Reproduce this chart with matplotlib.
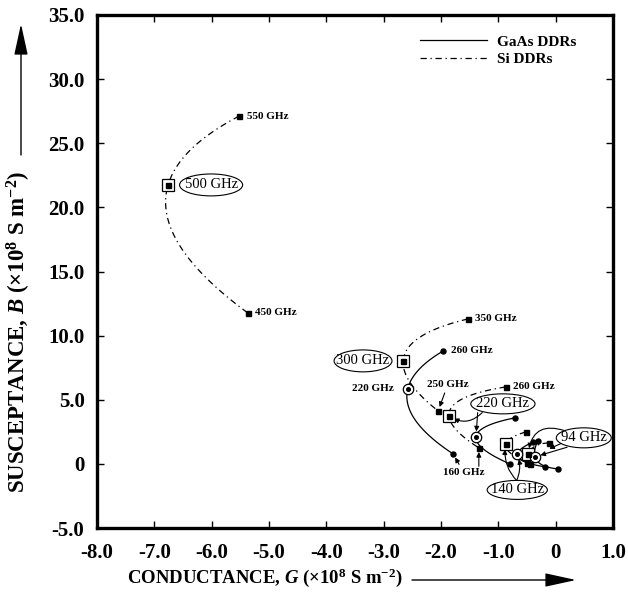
import numpy as np
import matplotlib
matplotlib.use("Agg")
import matplotlib.pyplot as plt
from matplotlib.lines import Line2D
from matplotlib.patches import Ellipse, FancyArrowPatch

plt.rcParams['font.family'] = ['Liberation Serif', 'DejaVu Serif']
plt.rcParams['mathtext.fontset'] = 'custom'
plt.rcParams['mathtext.rm'] = 'Liberation Serif:bold'
plt.rcParams['mathtext.it'] = 'Liberation Serif:italic:bold'
plt.rcParams['mathtext.bf'] = 'Liberation Serif:bold'

# ---- data: (G, B) triples  [upper freq, optimum freq, lower freq] ----
# Si DDRs (dash-dot)
si_500_G = [-5.52, -6.76, -5.37]
si_500_B = [27.12, 21.75, 11.77]
si_300_G = [-1.53, -2.66, -2.05]
si_300_B = [11.30, 8.03, 4.13]
si_220_G = [-0.87, -1.86, -1.34]
si_220_B = [6.00, 3.74, 1.25]
si_140_G = [-0.52, -0.87, -0.45]
si_140_B = [2.49, 1.56, 0.02]
si_94_G = [-0.12, -0.48, -0.50]
si_94_B = [1.64, 0.78, 0.10]
# GaAs DDRs (solid)
ga_220_G = [-1.96, -2.58, -1.79]
ga_220_B = [8.81, 5.85, 0.78]
ga_180_G = [-0.71, -1.39, -0.80]
ga_180_B = [3.59, 2.10, 0.00]
ga_140_G = [-0.39, -0.67, -0.19]
ga_140_B = [1.71, 0.78, -0.23]
ga_94_G = [-0.31, -0.36, 0.04]
ga_94_B = [1.79, 0.55, -0.39]

x_ticks = [-8.0, -7.0, -6.0, -5.0, -4.0, -3.0, -2.0, -1.0, 0.0, 1.0]
x_ticklabels = ['-8.0', '-7.0', '-6.0', '-5.0', '-4.0', '-3.0', '-2.0', '-1.0', '0', '1.0']
y_ticks = [-5.0, 0.0, 5.0, 10.0, 15.0, 20.0, 25.0, 30.0, 35.0]
y_ticklabels = ['-5.0', '0', '5.0', '10.0', '15.0', '20.0', '25.0', '30.0', '35.0']


def smooth3(G, B, n=80):
    """Parametric quadratic through three points (drawing only)."""
    G = np.asarray(G, float); B = np.asarray(B, float)
    d1 = np.hypot(G[1] - G[0], (B[1] - B[0]) / 4.5)
    d2 = np.hypot(G[2] - G[1], (B[2] - B[1]) / 4.5)
    t1 = d1 / (d1 + d2)
    ts = np.array([0.0, t1, 1.0])
    t = np.linspace(0, 1, n)
    def lag(v):
        out = np.zeros_like(t)
        for i in range(3):
            li = np.ones_like(t)
            for j in range(3):
                if j != i:
                    li *= (t - ts[j]) / (ts[i] - ts[j])
            out += v[i] * li
        return out
    return lag(G), lag(B)


fig = plt.figure(figsize=(6.28, 5.98), dpi=100)
ax = fig.add_axes([97 / 628, 70 / 598, 516 / 628, 513 / 598])

si_ls = (0, (5, 3, 1, 3))
lw = 0.9

si_sets = [(si_500_G, si_500_B), (si_300_G, si_300_B), (si_220_G, si_220_B),
           (si_140_G, si_140_B), (si_94_G, si_94_B)]
ga_sets = [(ga_220_G, ga_220_B), (ga_180_G, ga_180_B), (ga_140_G, ga_140_B),
           (ga_94_G, ga_94_B)]

for G, B in si_sets:
    gx, by = smooth3(G, B)
    ax.plot(gx, by, color='black', lw=lw, ls=si_ls)
    ax.plot([G[0], G[2]], [B[0], B[2]], ls='none', marker='s', ms=3.6, color='black')
    ax.plot(G[1], B[1], ls='none', marker='s', ms=9, mfc='white', mec='black', mew=0.9, zorder=4)
    ax.plot(G[1], B[1], ls='none', marker='s', ms=3.6, color='black', zorder=5)

for G, B in ga_sets:
    gx, by = smooth3(G, B)
    ax.plot(gx, by, color='black', lw=lw, ls='-')
    ax.plot([G[0], G[2]], [B[0], B[2]], ls='none', marker='o', ms=3.6, color='black')
    ax.plot(G[1], B[1], ls='none', marker='o', ms=7.5, mfc='white', mec='black', mew=0.9, zorder=4)
    ax.plot(G[1], B[1], ls='none', marker='o', ms=2.6, color='black', zorder=5)

ax.set_xlim(-8.0, 1.0)
ax.set_ylim(-5.0, 35.0)
ax.set_xticks(x_ticks)
ax.set_xticklabels(x_ticklabels)
ax.set_yticks(y_ticks)
ax.set_yticklabels(y_ticklabels)
ax.tick_params(axis='x', direction='in', length=5, width=1, top=True,
               labelsize=15, pad=11)
ax.tick_params(axis='y', direction='in', length=5, width=1, right=True,
               labelsize=15, pad=9)
for lab in ax.get_xticklabels() + ax.get_yticklabels():
    lab.set_fontweight('bold')
for sp in ax.spines.values():
    sp.set_linewidth(2.4)

# small frequency labels
small = dict(fontsize=8, fontweight='bold', va='center')
ax.text(si_500_G[0] + 0.13, si_500_B[0], '550 GHz', ha='left', **small)
ax.text(si_500_G[2] + 0.13, si_500_B[2], '450 GHz', ha='left', **small)
ax.text(si_300_G[0] + 0.13, si_300_B[0], '350 GHz', ha='left', **small)
ax.text(ga_220_G[0] + 0.13, ga_220_B[0], '260 GHz', ha='left', **small)
ax.text(ga_220_G[1] - 0.25, ga_220_B[1], '220 GHz', ha='right', **small)
ax.text(si_220_G[0] + 0.13, si_220_B[0], '260 GHz', ha='left', **small)

arr = dict(arrowstyle='-|>', color='black', lw=0.8, mutation_scale=7,
           shrinkA=1, shrinkB=3)
ax.annotate('250 GHz', xy=(si_300_G[2], si_300_B[2]), xytext=(-1.88, 6.2),
            ha='center', va='center', arrowprops=arr, fontsize=8, fontweight='bold')
ax.annotate('160 GHz', xy=(ga_220_G[2], ga_220_B[2]), xytext=(-1.6, -0.7),
            ha='center', va='center', arrowprops=arr, fontsize=8, fontweight='bold')
ax.annotate('', xy=(si_220_G[2], si_220_B[2]), xytext=(si_220_G[2], -0.3),
            arrowprops=arr)


def ell_label(txt, gc, bc, w, h):
    ax.add_patch(Ellipse((gc, bc), w, h, fc='white', ec='black', lw=0.8, zorder=6))
    ax.text(gc, bc, txt, fontsize=10.5, ha='center', va='center', zorder=7)


ell_label('500 GHz', -6.01, 21.75, 1.10, 1.71)
ell_label('300 GHz', -3.36, 8.03, 1.01, 1.71)

arr2 = dict(arrowstyle='-|>', color='black', lw=0.8, mutation_scale=7,
            shrinkA=0, shrinkB=4)
ax.annotate('', xy=(si_220_G[1], si_220_B[1]), xytext=(-1.28, 4.0),
            arrowprops=dict(arr2, connectionstyle='arc3,rad=-0.4'))
ax.annotate('', xy=(ga_180_G[1], ga_180_B[1]), xytext=(-1.36, 4.0),
            arrowprops=arr2)
ell_label('220 GHz', -0.92, 4.68, 1.12, 1.56)

ax.annotate('', xy=(si_140_G[1], si_140_B[1]), xytext=(-0.68, -1.3),
            arrowprops=dict(arr2, connectionstyle='arc3,rad=-0.25'))
ax.annotate('', xy=(ga_140_G[1], ga_140_B[1]), xytext=(-0.68, -1.3),
            arrowprops=dict(arr2, connectionstyle='arc3,rad=0.2'))
ell_label('140 GHz', -0.67, -2.03, 1.05, 1.48)

ax.annotate('', xy=(si_94_G[1], si_94_B[1]), xytext=(0.15, 2.6),
            arrowprops=dict(arr2, connectionstyle='arc3,rad=0.6'))
ax.annotate('', xy=(ga_94_G[1], ga_94_B[1]), xytext=(0.2, 1.3),
            arrowprops=arr2)
ax.annotate('', xy=(-0.2, 1.0), xytext=(0.1, 1.6),
            arrowprops=arr2)
ell_label('94 GHz', 0.49, 2.03, 0.96, 1.56)

# legend
handles = [Line2D([], [], color='black', lw=lw, ls='-'),
           Line2D([], [], color='black', lw=lw, ls=si_ls)]
ax.legend(handles, ['GaAs DDRs', 'Si DDRs'], loc='upper right',
          bbox_to_anchor=(0.955, 0.988), frameon=False, handlelength=4.4,
          prop=dict(family='Liberation Serif', weight='bold', size=11),
          labelspacing=0.25, handletextpad=0.6)

# axis labels with arrows
fig.text(265 / 628, 1 - 578 / 598,
         r'CONDUCTANCE, $\mathit{G}$ (×10$^{8}$ S m$^{-2}$)',
         ha='center', va='center', fontsize=13.5, fontweight='bold')
fig.text(19 / 628, 1 - 332 / 598,
         r'SUSCEPTANCE, $\mathit{B}$ (×10$^{8}$ S m$^{-2}$)',
         ha='center', va='center', rotation=90, fontsize=16.5, fontweight='bold')
big_arr = dict(arrowstyle='-|>,head_length=1.6,head_width=0.35', color='black',
               lw=1.0, shrinkA=0, shrinkB=0)
fig.patches.append(FancyArrowPatch(
    (412 / 628, 1 - 580 / 598), (576 / 628, 1 - 580 / 598),
    transform=fig.transFigure, mutation_scale=12, **big_arr))
fig.patches.append(FancyArrowPatch(
    (21 / 628, 1 - 155 / 598), (21 / 628, 1 - 24 / 598),
    transform=fig.transFigure, mutation_scale=12, **big_arr))

fig.savefig('out.png', dpi=100)
